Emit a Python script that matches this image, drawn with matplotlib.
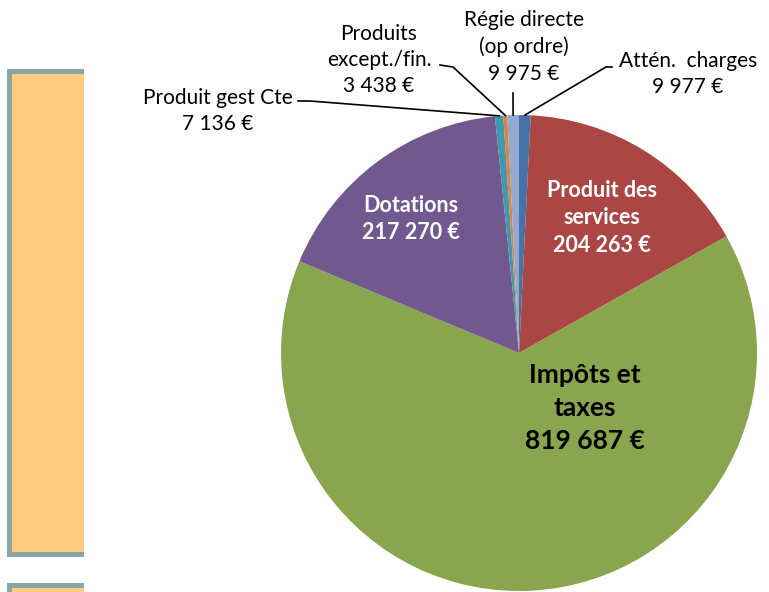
import matplotlib
from matplotlib import pyplot as plt
from matplotlib.patches import Rectangle
import numpy as np
plt.switch_backend('agg')

labels = ['Attén.  charges', 'Produit des\nservices', 'Impôts et\ntaxes', 'Dotations',
          'Produit gest Cte', 'Produits\nexcept./fin.', 'Régie directe\n(op ordre)']
values = [9977, 204263, 819687, 217270, 7136, 3438, 9975]
colors = ['#4572A7', '#AA4643', '#89A54E', '#71588F', '#4198AF', '#DB843D', '#93A9CF']

def euro(v):
    return '{:,}'.format(v).replace(',', ' ') + ' €'

W, H = 769, 592
fig = plt.figure(figsize=(W / 100, H / 100), dpi=100)
ax = fig.add_axes([0, 0, 1, 1])

# left panel boxes (partly cut off in the original)
for y0, y1 in [(35, 523), (-20, 9)]:
    ax.add_patch(Rectangle((7, y0), 77, y1 - y0, color='#8AA5A6', lw=0))
    ax.add_patch(Rectangle((12, y0 + 5), 72, y1 - y0 - 10, color='#FFCC80', lw=0))

cx, cy, r = 519, 239, 238
wedges, _ = ax.pie(values, colors=colors, startangle=90, counterclock=False,
                   center=(cx, cy), radius=r, wedgeprops=dict(linewidth=0))

ax.set_xlim(0, W)
ax.set_ylim(0, H)
ax.set_aspect('equal')
ax.axis('off')

font = 'Lato'

# labels inside big slices
inside = {1: (602, 374, 'white', 15.5, 1.4), 3: (411, 373, 'white', 15.5, 1.4),
          2: (585, 184, 'black', 19, 1.45)}
for i, (x, y, c, fs, ls) in inside.items():
    ax.text(x, y, labels[i] + '\n' + euro(values[i]), ha='center', va='center',
            color=c, fontsize=fs, fontweight='bold', family=font, linespacing=ls)

# outside labels with leader lines: text position and elbow of the line
outside = {
    0: ((688, 518), [(606, 525), (612, 525)]),
    6: ((524, 545), [(513, 499)]),
    5: ((379, 532), [(453, 525), (440, 527)]),
    4: ((218, 481), [(310, 491), (298, 491)]),
}
for i, ((tx, ty), pts) in outside.items():
    ax.text(tx, ty, labels[i] + '\n' + euro(values[i]), ha='center', va='center',
            fontsize=15, family=font, linespacing=1.4)
    w = wedges[i]
    mid = np.deg2rad((w.theta1 + w.theta2) / 2)
    ex, ey = cx + r * np.cos(mid), cy + r * np.sin(mid)
    xs = [ex] + [p[0] for p in pts]
    ys = [ey] + [p[1] for p in pts]
    ax.plot(xs, ys, color='black', lw=1.2)

plt.savefig('out.png', dpi=100)
